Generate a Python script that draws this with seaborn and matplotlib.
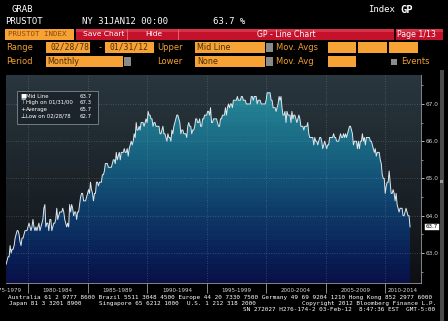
import numpy as np
import pandas as pd
import matplotlib
matplotlib.use("Agg")
import matplotlib.pyplot as plt
import matplotlib.dates as mdates
from matplotlib.patches import Rectangle, PathPatch
import seaborn as sns

# ---------------- data (monthly, 02/1978 - 01/2012) ----------------
lfpr_1978_1984 = [
    62.7, 62.8, 62.9, 62.9, 63.2, 63.0, 63.1, 63.1, 63.2, 63.4, 63.5,
    63.6, 63.6, 63.5, 63.3, 63.2, 63.4, 63.4, 63.5, 63.6, 63.6, 63.6, 63.7,
    63.8, 63.7, 63.6, 63.7, 63.9, 63.7, 63.6, 63.7, 63.6, 63.7, 63.8, 63.6,
    63.7, 63.8, 63.9, 64.2, 64.3, 63.7, 63.8, 63.8, 63.6, 63.9, 63.9, 63.6,
    63.7, 63.8, 63.8, 63.9, 64.2, 63.9, 64.0, 64.1, 64.1, 64.1, 64.2, 64.1,
    63.9, 63.8, 63.7, 63.8, 63.7, 64.3, 64.1, 64.3, 64.2, 64.0, 64.1, 64.1,
    63.9, 64.1, 64.1, 64.3, 64.5, 64.6, 64.6, 64.4, 64.4, 64.4, 64.5, 64.6,
]
lfpr_1985_1994 = [
    64.7, 64.6, 64.9, 64.7, 64.6, 64.4, 64.6, 64.6, 64.9, 64.9, 64.8, 64.9,
    64.9, 64.9, 65.1, 65.1, 65.2, 65.4, 65.4, 65.4, 65.3, 65.3, 65.3, 65.3,
    65.4, 65.5, 65.5, 65.4, 65.7, 65.5, 65.6, 65.7, 65.5, 65.7, 65.7, 65.7,
    65.8, 65.7, 65.7, 65.8, 65.6, 65.8, 65.9, 66.0, 65.9, 66.0, 66.2, 66.1,
    66.5, 66.3, 66.3, 66.4, 66.3, 66.5, 66.5, 66.5, 66.4, 66.5, 66.6, 66.5,
    66.8, 66.7, 66.7, 66.6, 66.6, 66.4, 66.5, 66.5, 66.4, 66.4, 66.4, 66.4,
    66.2, 66.2, 66.3, 66.4, 66.2, 66.2, 66.1, 66.0, 66.2, 66.1, 66.1, 66.0,
    66.3, 66.2, 66.4, 66.5, 66.6, 66.7, 66.7, 66.6, 66.5, 66.2, 66.3, 66.3,
    66.2, 66.2, 66.2, 66.1, 66.4, 66.5, 66.4, 66.4, 66.2, 66.3, 66.3, 66.4,
    66.6, 66.6, 66.5, 66.5, 66.6, 66.4, 66.4, 66.6, 66.6, 66.7, 66.7, 66.7,
]
lfpr_1995_2004 = [
    66.8, 66.8, 66.7, 66.9, 66.5, 66.5, 66.6, 66.6, 66.6, 66.6, 66.5, 66.4,
    66.4, 66.6, 66.6, 66.7, 66.7, 66.7, 66.9, 66.7, 66.9, 67.0, 66.9, 67.0,
    67.0, 66.9, 67.1, 67.1, 67.1, 67.1, 67.2, 67.1, 67.1, 67.1, 67.2, 67.2,
    67.1, 67.1, 67.1, 67.0, 67.0, 67.0, 67.0, 67.0, 67.2, 67.2, 67.1, 67.2,
    67.2, 67.2, 67.0, 67.1, 67.1, 67.1, 67.0, 67.0, 67.0, 67.0, 67.0, 67.1,
    67.3, 67.3, 67.3, 67.3, 67.1, 67.1, 66.9, 66.9, 66.9, 66.8, 66.9, 67.0,
    67.2, 67.1, 67.2, 66.9, 66.7, 66.7, 66.8, 66.5, 66.8, 66.7, 66.7, 66.7,
    66.5, 66.8, 66.6, 66.7, 66.7, 66.6, 66.5, 66.6, 66.7, 66.6, 66.4, 66.4,
    66.4, 66.3, 66.4, 66.4, 66.4, 66.5, 66.2, 66.1, 66.1, 66.1, 66.1, 65.9,
    66.1, 66.0, 66.0, 65.9, 66.0, 66.1, 66.1, 66.0, 65.8, 65.9, 66.0, 65.9,
]
lfpr_2005_2012 = [
    65.8, 65.9, 65.9, 66.1, 66.1, 66.1, 66.1, 66.2, 66.1, 66.1, 66.0, 66.0,
    66.0, 66.1, 66.2, 66.1, 66.1, 66.2, 66.1, 66.2, 66.1, 66.2, 66.3, 66.4,
    66.4, 66.3, 66.2, 65.9, 66.0, 66.0, 66.0, 65.8, 66.0, 65.8, 66.0, 66.0,
    66.2, 66.0, 66.1, 65.9, 66.1, 66.1, 66.1, 66.1, 66.0, 66.0, 65.9, 65.8,
    65.7, 65.8, 65.6, 65.7, 65.7, 65.7, 65.5, 65.4, 65.1, 65.0, 65.0, 64.6,
    64.8, 64.9, 64.9, 65.2, 64.9, 64.6, 64.6, 64.7, 64.6, 64.4, 64.6, 64.3,
    64.2, 64.1, 64.2, 64.2, 64.2, 64.0, 64.0, 64.1, 64.2, 64.1, 64.0, 64.0,
    63.7,
]
first_month = "1978-02-28"
period_labels = ["1975-1979", "1980-1984", "1985-1989", "1990-1994",
                 "1995-1999", "2000-2004", "2005-2009", "2010-2014"]
y_ticks = [63.0, 64.0, 65.0, 66.0, 67.0]
legend_names = ["Mid Line", "High on 01/31/00", "Average", "Low on 02/28/78"]
legend_values = ["63.7", "67.3", "65.7", "62.7"]
last_value_label = "63.7"

values = np.array(lfpr_1978_1984 + lfpr_1985_1994 + lfpr_1995_2004 + lfpr_2005_2012)
dates = pd.date_range(first_month, periods=len(values), freq="ME")
df = pd.DataFrame({"date": dates, "value": values})

# ---------------- figure ----------------
W, H = 448, 321
fig = plt.figure(figsize=(W / 100, H / 100), dpi=100, facecolor="black")

def fx(x):
    return x / W

def fy(y):
    return 1 - y / H

def rect(x0, y0, x1, y1, color, **kw):
    fig.add_artist(Rectangle((fx(x0), fy(y1)), (x1 - x0) / W, (y1 - y0) / H,
                             transform=fig.transFigure, facecolor=color,
                             edgecolor=kw.pop("ec", "none"), lw=kw.pop("lw", 0.5), **kw))

def txt(x, y, s, size, color, ha="left", va="center", family="DejaVu Sans", **kw):
    fig.text(fx(x), fy(y), s, fontsize=size, color=color, ha=ha, va=va,
             family=family, **kw)

MONO = "DejaVu Sans Mono"
ORANGE = "#f6a234"
ORTXT = "#f0a030"
BOXTXT = "#4a2c08"

# header lines
txt(12, 10, "GRAB", 6.5, "white", family=MONO)
txt(368, 10, "Index", 6.5, "white", family=MONO)
txt(400, 10, "GP", 7.5, "white", family=MONO, weight="bold")
txt(5, 22, "PRUSTOT", 6.5, "white", family=MONO)
txt(82, 22, "NY 31JAN12 00:00", 6.5, "white", family=MONO)
txt(213, 22, "63.7 %", 6.5, "white", family=MONO)

# red toolbar
rect(5, 29, 74, 39.5, ORANGE)
txt(8, 34.3, "PRUSTOT INDEX", 5.4, "#8a4a10", family=MONO)
rect(76, 29, 443, 39.5, "#c5122c")
rect(76, 29, 443, 32, "#d83248")
rect(127, 29, 127.8, 39.5, "#e06070")
rect(178, 29, 178.8, 39.5, "#e06070")
rect(394, 29, 395.5, 39.5, "#200005")
txt(83, 34.3, "Save Chart", 5.4, "white")
txt(145, 34.3, "Hide", 5.4, "white")
txt(286, 34.3, "GP - Line Chart", 5.6, "white", ha="center")
txt(397, 34.3, "Page 1/13", 5.6, "white")

# settings rows
r1, r2 = 47.5, 61.5
txt(6, r1, "Range", 6, ORTXT)
rect(46, 42, 90, 53, ORANGE)
txt(50, r1, "02/28/78", 5.8, BOXTXT, family=MONO)
txt(99, r1, "-", 6, ORTXT)
rect(105, 42, 154, 53, ORANGE)
txt(109, r1, "01/31/12", 5.8, BOXTXT, family=MONO)
txt(157, r1, "Upper", 6, ORTXT)
rect(195, 42, 265, 53, ORANGE)
txt(197, r1, "Mid Line", 5.8, BOXTXT)
rect(266, 43, 273, 52, "#8a8a8a")
txt(276, r1, "Mov. Avgs", 6, ORTXT)
rect(328, 42, 356, 53, ORANGE)
rect(358, 42, 387, 53, ORANGE)
rect(389, 42, 418, 53, ORANGE)

txt(6, r2, "Period", 6, ORTXT)
rect(46, 56, 123, 67, ORANGE)
txt(47, r2, "Monthly", 5.8, BOXTXT)
rect(124, 57, 131, 66, "#8a8a8a")
txt(157, r2, "Lower", 6, ORTXT)
rect(195, 56, 265, 67, ORANGE)
txt(197, r2, "None", 5.8, BOXTXT)
rect(266, 57, 273, 66, "#8a8a8a")
txt(276, r2, "Mov. Avg", 6, ORTXT)
rect(328, 56, 356, 67, ORANGE)
rect(391, 58.5, 397, 64.5, "#8c8c8c")
txt(401, r2, "Events", 6, ORTXT)

# scrollbar on the right
rect(439.5, 70, 443.5, 321, "#4a4a4a")
rect(440, 180, 443, 183, "#9a9a9a")

# ---------------- plot area ----------------
ax = fig.add_axes([fx(6), fy(283), (421 - 6) / W, (283 - 74.5) / H])
ax.set_facecolor("black")
sns.lineplot(data=df, x="date", y="value", ax=ax, color="#dde8ee",
             linewidth=0.7, zorder=5)

xl = pd.Timestamp("1978-02-24")
xr = pd.Timestamp("2013-01-01")
x0n, x1n = mdates.date2num(xl), mdates.date2num(xr)
y0, y1 = 62.195, 67.79


def banded(stop_vals, stop_cols, nbands=44, nrows=440):
    ys = np.linspace(y0, y1, nrows)
    q = np.floor((ys - y0) / (y1 - y0) * nbands) / nbands * (y1 - y0) + y0
    rgb = np.stack([np.interp(q, stop_vals, [c[i] for c in stop_cols])
                    for i in range(3)], axis=-1) / 255.0
    return rgb[:, None, :]


bg = banded([62.2, 64.0, 66.0, 67.8],
            [(14, 16, 20), (24, 30, 35), (33, 43, 50), (42, 55, 63)])
ax.imshow(bg, origin="lower", extent=[x0n, x1n, y0, y1], aspect="auto",
          interpolation="nearest", zorder=0)

fillc = banded([62.2, 63.0, 64.0, 65.0, 66.0, 67.0, 67.8],
               [(8, 18, 72), (10, 34, 88), (14, 58, 104), (20, 84, 120),
                (27, 108, 134), (36, 132, 148), (44, 148, 160)])
poly = ax.fill_between(df["date"], df["value"], y0, facecolor="none",
                       edgecolor="none")
clip = PathPatch(poly.get_paths()[0], transform=ax.transData,
                 facecolor="none", edgecolor="none")
ax.add_patch(clip)
im = ax.imshow(fillc, origin="lower", extent=[x0n, x1n, y0, y1], aspect="auto",
               interpolation="nearest", zorder=1)
im.set_clip_path(clip)

ax.set_xlim(xl, xr)
ax.set_ylim(y0, y1)

# grid
for yv in y_ticks:
    ax.axhline(yv, color="#9aa8b4", lw=0.5, ls=(0, (1, 2.5)), alpha=0.55, zorder=3)
sep_years = [pd.Timestamp(f"{y}-01-01") for y in range(1980, 2015, 5)]
for d in sep_years:
    ax.axvline(d, color="#9aa8b4", lw=0.5, ls=(0, (1, 2.5)), alpha=0.55, zorder=3)

# axes styling
for s in ["left", "top"]:
    ax.spines[s].set_visible(False)
ax.spines["right"].set_color("#9a9a9a")
ax.spines["right"].set_linewidth(0.6)
ax.spines["bottom"].set_color("#9a9a9a")
ax.spines["bottom"].set_linewidth(0.6)

ax.yaxis.tick_right()
ax.set_yticks(y_ticks)
ax.set_yticklabels([f"{v:.1f}" for v in y_ticks])
ax.set_yticks([62.5, 63.5, 64.5, 65.5, 66.5, 67.5], minor=True)
ax.tick_params(axis="y", which="major", colors="#cfcfcf", labelsize=4.2,
               length=2.2, width=0.6, pad=1.2)
ax.tick_params(axis="y", which="minor", colors="#bfbfbf", length=1.3, width=0.5)
ax.tick_params(axis="y", which="both", left=False)
ax.set_xticks(sep_years)
ax.set_xticklabels([""] * len(sep_years))
ax.tick_params(axis="x", which="major", colors="#a0a0a0", length=7.5, width=0.6)
ax.tick_params(axis="x", which="minor", bottom=False)
ax.set_xlabel("")
ax.set_ylabel("")

# period labels under the axis
label_pos = [xl]
for i in range(1, len(period_labels)):
    a = pd.Timestamp(f"{1975 + 5 * i}-01-01")
    b = min(pd.Timestamp(f"{1980 + 5 * i}-01-01"), xr)
    label_pos.append(a + (b - a) / 2)
for lab, pos in zip(period_labels, label_pos):
    ax.text(pos, -0.036, lab, transform=ax.get_xaxis_transform(), ha="center",
            va="center", fontsize=4.0, color="#d8d8d8", clip_on=False)

# last value tag
ax.annotate(last_value_label, xy=(1.0, values[-1]), xycoords=("axes fraction", "data"),
            xytext=(3.5, 0), textcoords="offset points", ha="left", va="center",
            fontsize=4.0, color="black", annotation_clip=False,
            bbox=dict(boxstyle="square,pad=0.15", fc="white", ec="white", lw=0.3))

# legend box
rect(17, 91, 98, 123.5, "#1a2329", ec="#8a9298", lw=0.6, alpha=0.9)
leg_y = [96, 102.7, 109.4, 116]
symbols = ["\u25a0", "\u22a4", "+", "\u22a5"]
for yy, sym, nm, vv in zip(leg_y, symbols, legend_names, legend_values):
    txt(20, yy, sym, 4.4, "white")
    txt(26, yy, nm, 3.9, "white")
    txt(92, yy, vv, 3.9, "white", ha="right")

# footer
FOOT = 4.37
txt(8, 297.5, "Australia 61 2 9777 8600 Brazil 5511 3048 4500 Europe 44 20 7330 7500 "
    "Germany 49 69 9204 1210 Hong Kong 852 2977 6000", FOOT, "white", family=MONO)
txt(9, 303.6, "Japan 81 3 3201 8900", FOOT, "white", family=MONO)
txt(99, 303.6, "Singapore 65 6212 1000", FOOT, "white", family=MONO)
txt(187, 303.6, "U.S. 1 212 318 2000", FOOT, "white", family=MONO)
txt(302, 303.6, "Copyright 2012 Bloomberg Finance L.P.", FOOT, "white", family=MONO)
txt(243, 309.5, "SN 272027 H276-174-2 03-Feb-12  8:47:36 EST  GMT-5:00", FOOT,
    "white", family=MONO)

fig.savefig("out.png", dpi=100, facecolor="black")
